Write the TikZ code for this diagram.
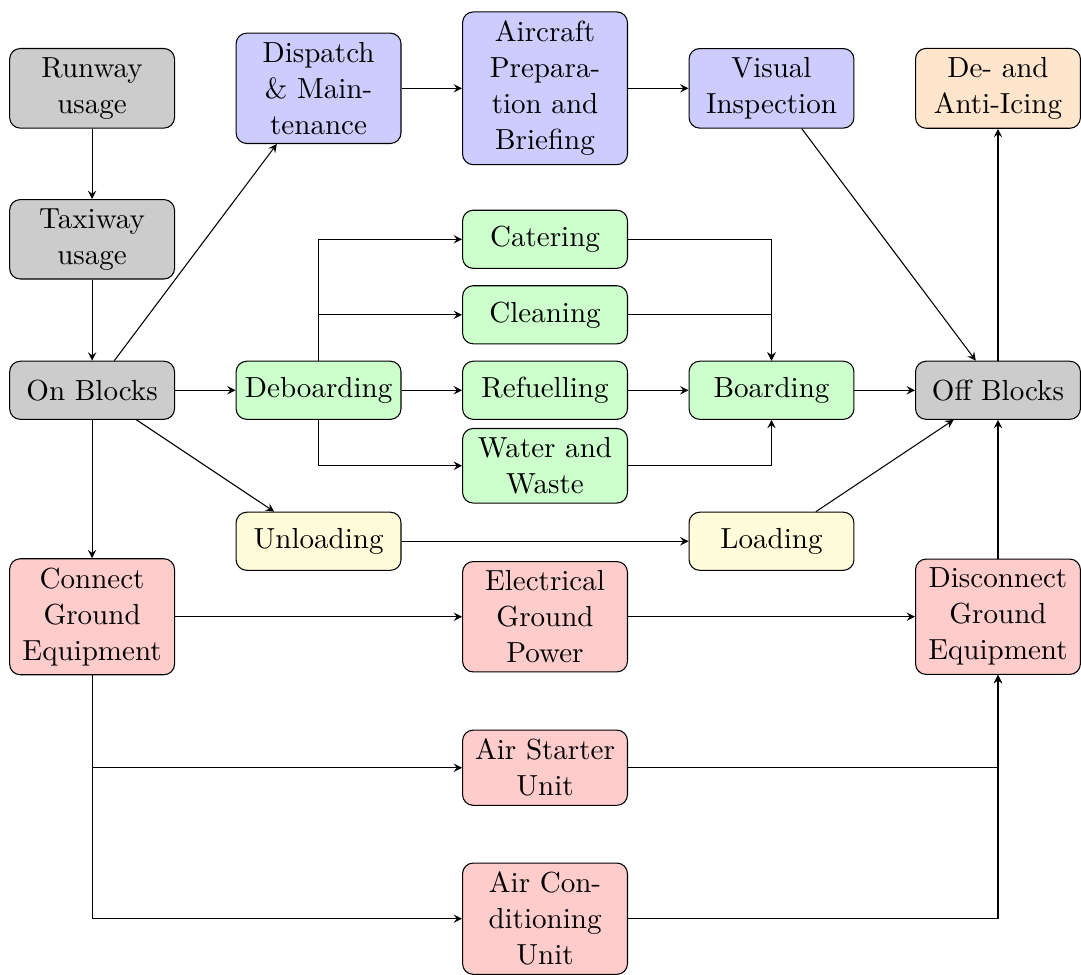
\documentclass[tikz,border=0pt]{standalone}
\usetikzlibrary{arrows}
\usetikzlibrary{positioning}

\begin{document}
\begin{tikzpicture} [
        node distance = 1cm and 3cm,
        on grid,
        every node/.style = {
          align = center,
          font = \fontsize{10.95}{13.6}\selectfont,
        },
        procbox/.style = {
          draw,
          rounded corners,
          text width = 1.95cm,
          minimum height = 0.77cm,
        },
        groundbox/.style = {procbox, fill = black!20},
        planbox/.style = {procbox, fill = blue!20},
        servicebox/.style = {procbox, fill = green!20},
        cargobox/.style = {procbox, fill = yellow!15},
        icebox/.style = {procbox, fill = orange!20},
        powerbox/.style = {procbox, fill = red!20},
        flow/.style = {
          draw,
          -stealth,
        },
      ]

    % apron and movement
    \node [groundbox] (onBlocks) {On Blocks};
    \node [groundbox, above = 2cm of onBlocks] (taxiway) {Taxiway usage};
    \node [groundbox, above = 2cm of taxiway] (runway) {Runway usage};

    % ground handling
    \node [servicebox, right = of onBlocks] (deboarding) {Deboarding};
    \node [servicebox, right = of deboarding] (refuelling) {Refuelling};
    \node [servicebox, above = of refuelling] (cleaning) {Cleaning};
    \node [servicebox, above = of cleaning] (catering) {Catering};
    \node [servicebox, below = of refuelling] (waterWaste) {Water and Waste};
    \node [servicebox, right = of refuelling] (boarding) {Boarding};
    \node [groundbox, right = of boarding] (offBlocks) {Off Blocks};

    % flight preparation
    \node [planbox, above = 4cm of deboarding] (dispatch) {Dispatch \& Maintenance};
    \node [planbox, right = of dispatch] (preparation) {Aircraft Preparation and Briefing};
    \node [planbox, right = of preparation] (inspection) {Visual Inspection};
    \node [icebox, above = 4cm of offBlocks] (deicing) {De- and Anti-Icing};

    % cargo
    \node [cargobox, below = 2cm of deboarding] (unloading) {Unloading};
    \node [cargobox, below = 2cm of boarding] (loading) {Loading};

    % ground equipment
    \node [powerbox, below = 3cm of onBlocks] (connectGE) {Connect Ground Equipment};
    \node [powerbox, below = 3cm of refuelling] (elecPower) {Electrical Ground Power};
    \node [powerbox, below = 3cm of offBlocks] (disconnectGE) {Disconnect Ground Equipment};
    \node [powerbox, below = 2cm of elecPower] (airStarter) {Air Starter Unit};
    \node [powerbox, below = 4cm of elecPower] (airCond) {Air Conditioning Unit};

    \draw[flow] (runway) -- (taxiway);
    \draw[flow] (taxiway) -- (onBlocks);
    \draw[flow] (onBlocks) -- (deboarding);
    \draw[flow] (onBlocks) -- (dispatch);
    \draw[flow] (onBlocks) -- (unloading);
    \draw[flow] (onBlocks) -- (connectGE);

    \draw[flow] (dispatch) -- (preparation);
    \draw[flow] (preparation) -- (inspection);
    \draw[flow] (inspection) -- (offBlocks);
    \draw[flow] (offBlocks) -- (deicing);

    \draw[flow] (deboarding) |- (catering);
    \draw[flow] (deboarding) |- (cleaning);
    \draw[flow] (deboarding) -- (refuelling);
    \draw[flow] (deboarding) |- (waterWaste);
    \draw[flow] (catering) -| (boarding);
    \draw[flow] (cleaning) -| (boarding);
    \draw[flow] (refuelling) -- (boarding);
    \draw[flow] (waterWaste) -| (boarding);
    \draw[flow] (boarding) -- (offBlocks);

    \draw[flow] (unloading) -- (loading);
    \draw[flow] (loading) -- (offBlocks);

    \draw[flow] (connectGE) -- (elecPower);
    \draw[flow] (elecPower) -- (disconnectGE);
    \draw[flow] (disconnectGE) -- (offBlocks);
    \draw[flow] (connectGE) |- (airStarter);
    \draw[flow] (connectGE) |- (airCond);
    \draw[flow] (airStarter) -| (disconnectGE);
    \draw[flow] (airCond) -| (disconnectGE);

    \useasboundingbox (-1.22,-7.74) rectangle (13.1,5.17);
  \end{tikzpicture}
\end{document}
